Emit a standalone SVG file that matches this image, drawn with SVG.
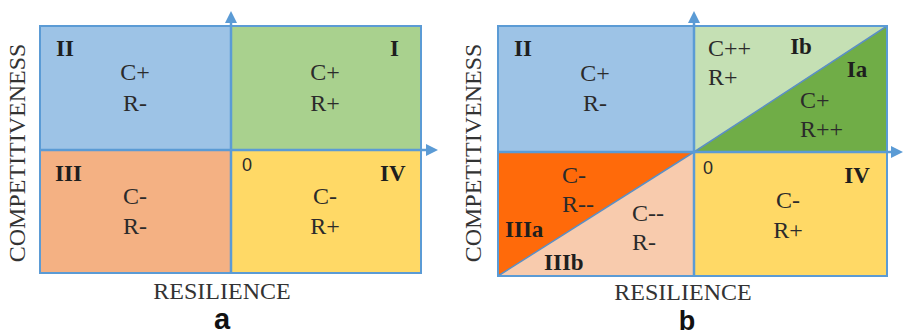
<svg xmlns="http://www.w3.org/2000/svg" width="907" height="335" viewBox="0 0 907 335">
<style>
.t{font-family:"Liberation Serif","Times New Roman",serif;font-size:24px;fill:#2b2b2b}
.n{font-family:"Liberation Serif","Times New Roman",serif;font-size:23px;font-weight:bold;fill:#1e1e1e}
.ax{font-family:"Liberation Serif","Times New Roman",serif;font-size:24px;fill:#333}
.z{font-family:"Liberation Sans",Arial,sans-serif;font-size:18px;fill:#2b2b2b}
.cap{font-family:"Liberation Sans",Arial,sans-serif;font-size:29px;font-weight:bold;fill:#111;text-anchor:middle}
.m{text-anchor:middle}
.axis{stroke:#5B9BD5;stroke-width:2.5;fill:none}
.border{fill:none;stroke:#5B9BD5;stroke-width:2}
.diag{stroke:#5B8FC5;stroke-width:1.5}
</style>
<defs>
<marker id="ah" viewBox="0 0 12 12" refX="2" refY="6" markerWidth="12" markerHeight="12" markerUnits="userSpaceOnUse" orient="auto">
<path d="M0,0 L12,6 L0,12 Z" fill="#5B9BD5"/>
</marker>
</defs>
<rect width="907" height="335" fill="#ffffff"/>

<g id="panel-a">
<g id="a-q2"><rect x="40" y="26" width="191" height="124" fill="#9DC3E6"/>
<text class="n" x="56" y="56">II</text>
<text class="t m" x="135" y="80">C+</text>
<text class="t m" x="135" y="111">R-</text></g>
<g id="a-q1"><rect x="231" y="26" width="190" height="124" fill="#A9D18E"/>
<text class="n" x="390" y="56">I</text>
<text class="t m" x="325" y="80">C+</text>
<text class="t m" x="325" y="111">R+</text></g>
<g id="a-q3"><rect x="40" y="150" width="191" height="123" fill="#F4B183"/>
<text class="n" x="55" y="181">III</text>
<text class="t m" x="135" y="204">C-</text>
<text class="t m" x="135" y="234">R-</text></g>
<g id="a-q4"><rect x="231" y="150" width="190" height="123" fill="#FFD966"/>
<text class="z" x="242" y="171">0</text>
<text class="n" x="380" y="181">IV</text>
<text class="t m" x="325" y="204">C-</text>
<text class="t m" x="325" y="234">R+</text></g>
<rect class="border" x="40" y="26" width="381" height="247"/>
<text class="ax m" x="222" y="299">RESILIENCE</text>
<text class="ax m" transform="translate(25,153) rotate(-90)">COMPETITIVENESS</text>
<text class="cap" x="222" y="329">a</text>
</g>

<g id="panel-b">
<g id="b-q2"><rect x="498" y="26" width="196" height="126" fill="#9DC3E6"/>
<text class="n" x="514" y="56">II</text>
<text class="t m" x="595" y="81">C+</text>
<text class="t m" x="595" y="111">R-</text></g>
<g id="b-q1"><rect x="694" y="26" width="193" height="126" fill="#C5E0B4"/>
<polygon points="694,152 887,26 887,152" fill="#70AD47"/>
<line class="diag" x1="694" y1="152" x2="887" y2="26"/>
<text class="t" x="708" y="56">C++</text>
<text class="t" x="708" y="85">R+</text>
<text class="n m" x="801" y="54">Ib</text>
<text class="n m" x="857" y="77">Ia</text>
<text class="t" x="800" y="108">C+</text>
<text class="t" x="800" y="137">R++</text></g>
<g id="b-q3"><rect x="498" y="152" width="196" height="124" fill="#F8CBAD"/>
<polygon points="498,152 694,152 498,276" fill="#FF6A0A"/>
<line class="diag" x1="498" y1="276" x2="694" y2="152"/>
<text class="t" x="562" y="183">C-</text>
<text class="t" x="562" y="212">R--</text>
<text class="n" x="505" y="237">IIIa</text>
<text class="t" x="632" y="221">C--</text>
<text class="t" x="632" y="250">R-</text>
<text class="n" x="544" y="270">IIIb</text></g>
<g id="b-q4"><rect x="694" y="152" width="193" height="124" fill="#FFD966"/>
<text class="z" x="703" y="174">0</text>
<text class="n m" x="857" y="183">IV</text>
<text class="t m" x="788" y="208">C-</text>
<text class="t m" x="788" y="238">R+</text></g>
<rect class="border" x="498" y="26" width="389" height="250"/>
<text class="ax m" x="683" y="300">RESILIENCE</text>
<text class="ax m" transform="translate(481,153) rotate(-90)">COMPETITIVENESS</text>
<text class="cap" x="687" y="330" style="font-size:27px">b</text>
</g>

<g id="connectors">
<line class="axis" x1="231" y1="273" x2="231" y2="21" marker-end="url(#ah)"/>
<line class="axis" x1="40" y1="150" x2="428" y2="150" marker-end="url(#ah)"/>
<line class="axis" x1="694" y1="276" x2="694" y2="21" marker-end="url(#ah)"/>
<line class="axis" x1="498" y1="152" x2="893" y2="152" marker-end="url(#ah)"/>
</g>
</svg>
